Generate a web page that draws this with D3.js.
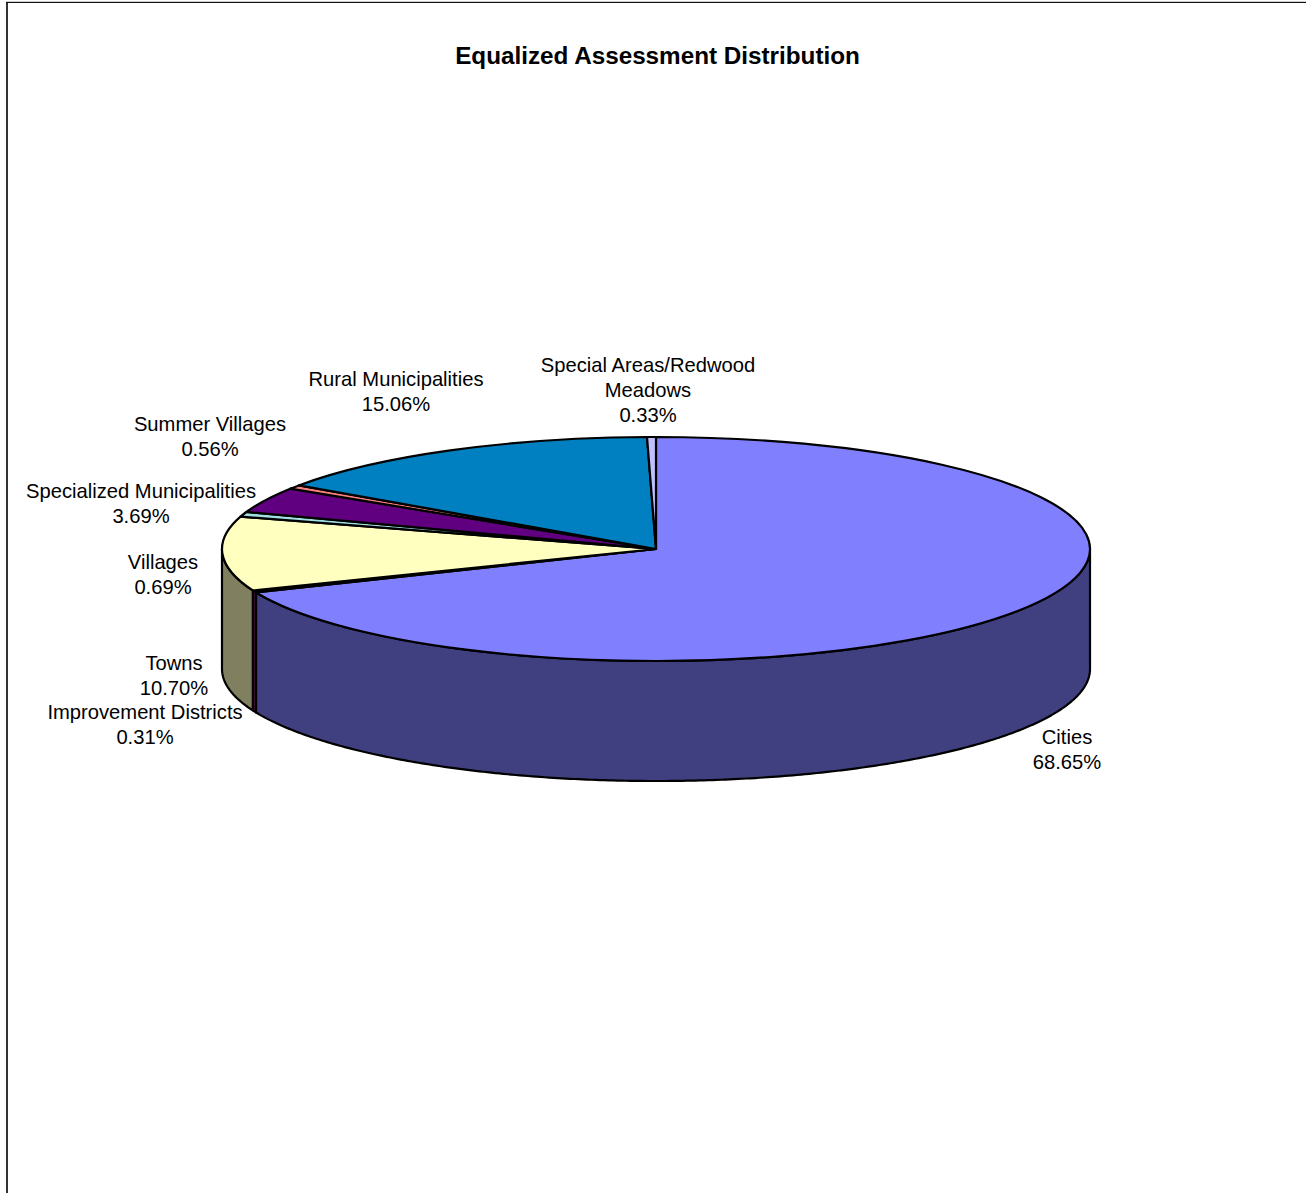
<!DOCTYPE html>
<html>
<head>
<meta charset="utf-8">
<title>Equalized Assessment Distribution</title>
<script src="https://cdn.jsdelivr.net/npm/d3@7"></script>
<style>
  html, body { margin: 0; padding: 0; background: #fff; }
  svg { display: block; }
  text { font-family: "Liberation Sans", Arial, sans-serif; fill: #000; }
</style>
</head>
<body>
<div id="chart"></div>
<script>
const titleText = "Equalized Assessment Distribution";
const categories = ["Cities", "Improvement Districts", "Towns", "Villages",
    "Specialized Municipalities", "Summer Villages", "Rural Municipalities", "Special Areas/Redwood\nMeadows"];
const shares = [68.65, 0.31, 10.70, 0.69, 3.69, 0.56, 15.06, 0.33];
const topColors = ["#8080ff", "#802060", "#ffffc0", "#a0e0e0", "#600080", "#ff8080", "#0080c0", "#c0c0ff"];

// label centres, first line baseline
const labelX = [1067, 145, 174, 163, 141, 210, 396, 648];
const labelY = [744, 719, 670, 569, 498, 431, 386, 372];

const width = 1306, height = 1193;
const cx = 656, cy = 549, rx = 434, ry = 112, depth = 120;
const outline = 2.2;

const svg = d3.select("#chart").append("svg")
    .attr("width", width)
    .attr("height", height)
    .attr("viewBox", [0, 0, width, height]);

// chart frame, right and bottom edges are cut off in the picture
svg.append("path")
    .attr("d", `M7,${height}V2`)
    .attr("fill", "none")
    .attr("stroke", "#333")
    .attr("stroke-width", 2);
svg.append("path")
    .attr("d", `M6,1.5H${width}`)
    .attr("fill", "none")
    .attr("stroke", "#ccc")
    .attr("stroke-width", 1);
svg.append("path")
    .attr("d", `M6,2.5H${width}`)
    .attr("fill", "none")
    .attr("stroke", "#111")
    .attr("stroke-width", 1);

svg.append("text")
    .attr("x", 657.5)
    .attr("y", 64)
    .attr("text-anchor", "middle")
    .style("font-size", "24.25px")
    .style("font-weight", "bold")
    .text(titleText);

const slices = d3.pie().sort(null).value(d => d)(shares);

const px = a => cx + rx * Math.sin(a);
const py = a => cy - ry * Math.cos(a);

function halfTone(c) {
    const rgb = d3.rgb(c);
    return d3.rgb(rgb.r / 2, rgb.g / 2, rgb.b / 2).formatHex();
}

// side walls, only the front half of the ellipse shows
const wall = d3.area()
    .x(a => px(a))
    .y0(a => py(a))
    .y1(a => py(a) + depth);

const walls = svg.append("g")
    .attr("stroke", "#000")
    .attr("stroke-width", outline)
    .attr("stroke-linejoin", "round");

slices.forEach((s, i) => {
    const a0 = Math.max(s.startAngle, Math.PI / 2);
    const a1 = Math.min(s.endAngle, Math.PI * 1.5);
    if (a1 <= a0) return;
    const steps = d3.range(a0, a1, 0.01).concat([a1]);
    walls.append("path")
        .attr("d", wall(steps))
        .attr("fill", halfTone(topColors[i]));
});

// top face: a circular d3.arc squashed into the ellipse
const arc = d3.arc().innerRadius(0).outerRadius(rx);

svg.append("g")
    .attr("transform", `translate(${cx},${cy}) scale(1,${ry / rx})`)
    .selectAll("path")
    .data(slices)
    .join("path")
    .attr("d", arc)
    .attr("fill", (d, i) => topColors[i])
    .attr("stroke", "#000")
    .attr("stroke-width", outline)
    .attr("stroke-linejoin", "round")
    .attr("vector-effect", "non-scaling-stroke");

const labels = svg.append("g")
    .attr("text-anchor", "middle")
    .style("font-size", "20.2px");

categories.forEach((name, i) => {
    const lines = name.split("\n").concat([d3.format(".2f")(shares[i]) + "%"]);
    lines.forEach((line, j) => {
        labels.append("text")
            .attr("x", labelX[i])
            .attr("y", labelY[i] + j * 25)
            .text(line);
    });
});
</script>
</body>
</html>
